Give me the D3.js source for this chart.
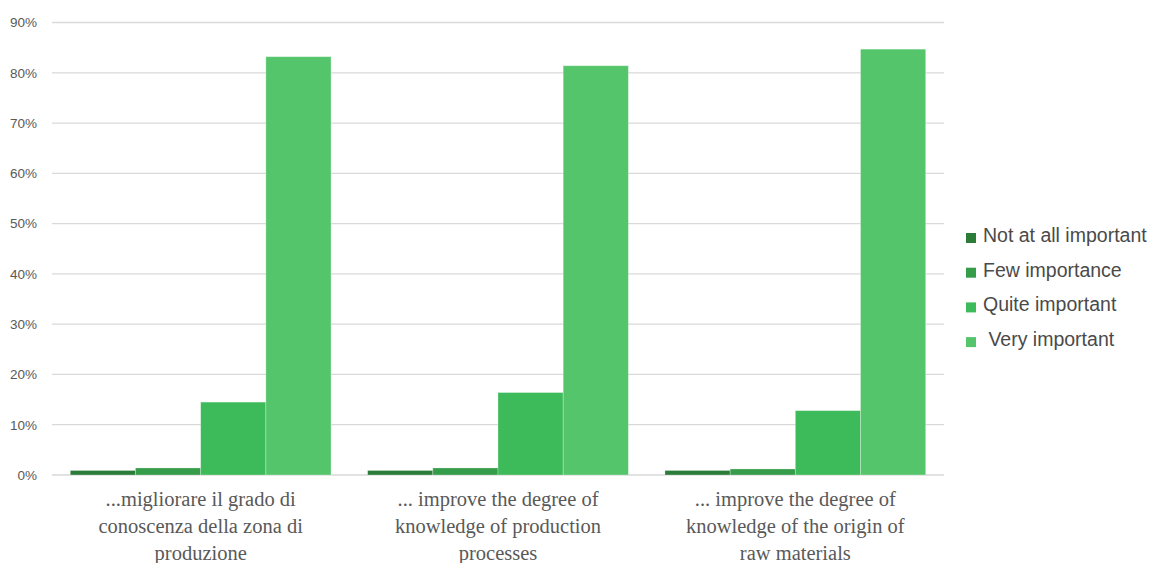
<!DOCTYPE html>
<html><head><meta charset="utf-8">
<script src="https://cdn.jsdelivr.net/npm/d3@7"></script>
<style>html,body{margin:0;padding:0;background:#fff;}</style>
</head><body>
<svg id="chart" width="1165" height="563"></svg>
<script>
const categories = [
  "...migliorare il grado di|conoscenza della zona di|produzione",
  "... improve the degree of|knowledge of production|processes",
  "... improve the degree of|knowledge of the origin of|raw materials"
];
const seriesNames = ["Not at all important", "Few importance", "Quite important", " Very important"];
const notAtAll = [0.9, 0.9, 0.9];
const fewImportance = [1.4, 1.4, 1.2];
const quiteImportant = [14.5, 16.4, 12.8];
const veryImportant = [83.2, 81.4, 84.7];
const colors = ["#2b7b39", "#359c49", "#3dba59", "#55c56c"];
const yTicks = [0, 10, 20, 30, 40, 50, 60, 70, 80, 90];

const seriesValues = [notAtAll, fewImportance, quiteImportant, veryImportant];
const svg = d3.select("#chart");
const plotLeft = 52, plotRight = 944, plotTop = 22.5, plotBottom = 475;

const x0 = d3.scaleBand().domain(d3.range(categories.length)).range([plotLeft, plotRight]).padding(0);
const x1 = d3.scaleBand().domain(d3.range(seriesNames.length))
  .range([18.3, x0.bandwidth() - 18.3]).padding(0);
const y = d3.scaleLinear().domain([0, 90]).range([plotBottom, plotTop]);

// gridlines
svg.append("g").selectAll("line").data(yTicks).join("line")
  .attr("x1", plotLeft).attr("x2", plotRight)
  .attr("y1", d => y(d)).attr("y2", d => y(d))
  .attr("stroke", "#d9d9d9").attr("stroke-width", 1.3);

// y axis labels
const yAxis = svg.append("g").attr("transform", `translate(${37},0)`)
  .call(d3.axisLeft(y).tickValues(yTicks).tickFormat(d => d + "%").tickSize(0).tickPadding(0));
yAxis.select(".domain").remove();
yAxis.selectAll("text").attr("fill", "#595959")
  .style("font-family", "'Liberation Sans', Arial, sans-serif").style("font-size", "13.5px");

// bars
const groups = svg.append("g").selectAll("g").data(categories.map((c, i) => i)).join("g")
  .attr("transform", i => `translate(${x0(i)},0)`);
groups.selectAll("rect").data(i => seriesValues.map((s, k) => ({k, v: s[i]}))).join("rect")
  .attr("x", d => x1(d.k)).attr("width", x1.bandwidth())
  .attr("y", d => y(d.v)).attr("height", d => y(0) - y(d.v))
  .attr("fill", d => colors[d.k])
  .attr("stroke", "rgba(255,255,255,0.35)").attr("stroke-width", 0.8);

// x axis labels
const xAxis = svg.append("g").attr("transform", `translate(0,${plotBottom})`)
  .call(d3.axisBottom(x0).tickSize(0).tickFormat(""));
xAxis.select(".domain").remove();
xAxis.selectAll(".tick").each(function(i) {
  const lines = categories[i].split("|");
  const t = d3.select(this).append("text")
    .attr("text-anchor", "middle").attr("fill", "#595959")
    .style("font-family", "'Liberation Serif', 'Times New Roman', serif").style("font-size", "20.5px");
  lines.forEach((l, j) => t.append("tspan").attr("x", 0).attr("y", 31 + j * 27).text(l));
});

// legend
const legend = svg.append("g").selectAll("g").data(seriesNames).join("g")
  .attr("transform", (d, i) => `translate(966,${242 + i * 34.7})`);
legend.append("rect").attr("x", 0).attr("y", -9).attr("width", 10).attr("height", 10)
  .attr("fill", (d, i) => colors[i]);
legend.append("text").attr("x", 17).attr("y", 0).attr("fill", "#4a4a4a")
  .attr("xml:space", "preserve").style("white-space", "pre")
  .style("font-family", "'Liberation Sans', Arial, sans-serif").style("font-size", "19.5px")
  .text(d => d);
</script>
</body></html>
